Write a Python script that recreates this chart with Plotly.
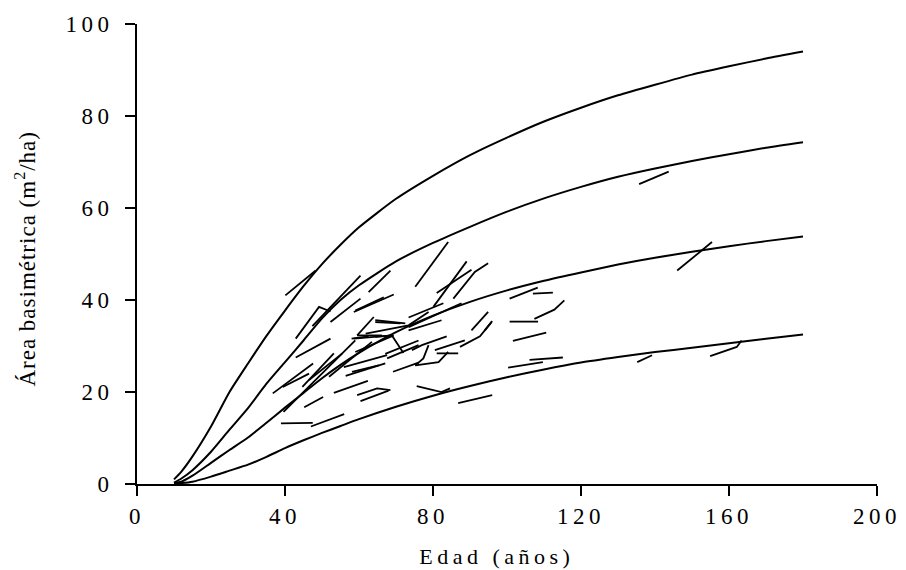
import plotly.graph_objects as go

# ---------------- data ----------------
curve_age = [10, 12, 15, 20, 25, 30, 35, 40, 45, 50, 55, 60, 70, 80, 90, 100,
             110, 120, 130, 140, 150, 160, 170, 180]
curve_1 = [1.0, 2.7, 6.0, 12.5, 20.0, 26.2, 32.2, 37.7, 43.0, 47.8, 52.0, 55.8,
           62.0, 67.0, 71.5, 75.3, 78.8, 81.8, 84.5, 86.8, 89.0, 90.8, 92.5, 94.0]
curve_2 = [0.3, 1.2, 3.0, 7.0, 11.8, 16.5, 21.8, 26.5, 31.2, 36.0, 40.0, 43.2,
           48.4, 52.4, 55.9, 59.2, 62.1, 64.6, 66.8, 68.6, 70.2, 71.7, 73.1, 74.3]
curve_3 = [0.2, 0.5, 1.8, 4.6, 7.4, 10.1, 13.3, 16.6, 19.8, 23.0, 25.9, 28.5,
           33.0, 36.6, 39.6, 42.1, 44.2, 46.0, 47.7, 49.2, 50.5, 51.7, 52.8, 53.8]
curve_4 = [0.1, 0.2, 0.5, 1.6, 2.9, 4.2, 5.9, 7.8, 9.5, 11.1, 12.6, 14.1,
           16.8, 19.2, 21.3, 23.2, 24.9, 26.4, 27.6, 28.7, 29.6, 30.6, 31.6, 32.5]

# remeasured plots: ages and basal areas of each plot
plot_age = [
    [40.1, 48.3], [42.9, 49.2, 52.3], [47.4, 60.4], [52.3, 60.4], [58.6, 69.4],
    [59.0, 66.7], [62.6, 68.5], [42.9, 52.3], [36.7, 47.6], [39.6, 59.0],
    [44.7, 53.2], [45.2, 50.3], [38.9, 47.5], [47.0, 56.0], [53.2, 62.4],
    [56.4, 67.1], [59.5, 64.9, 68.5], [60.4, 68.0], [58.0, 62.6], [59.5, 64.0],
    [64.4, 71.2], [61.8, 73.4, 78.8], [58.6, 68.9], [64.4, 68.9, 72.0], [59.0, 69.4],
    [51.9, 63.5], [55.9, 67.6], [58.1, 65.3], [69.2, 76.1], [67.6, 76.1],
    [75.2, 84.1], [81.0, 90.4], [80.1, 89.1], [85.5, 91.3, 94.9], [73.4, 82.8],
    [73.4, 87.7], [100.7, 108.3], [107.0, 112.4], [107.4, 112.8, 115.5], [100.7, 108.4],
    [90.4, 94.9], [94.0, 96.0], [73.4, 82.3], [74.3, 77.0, 83.7], [80.5, 88.6],
    [87.3, 92.7, 95.8], [101.6, 110.6], [75.2, 77.4, 78.8], [75.2, 81.5, 84.1], [81.0, 86.8],
    [100.3, 109.7], [106.1, 115.1], [75.6, 82.3, 84.6], [86.8, 96.0], [135.7, 143.7],
    [146.0, 155.4], [135.2, 139.2], [154.9, 162.1, 163.4], [64.4, 72.5], [67.1, 76.1],
    [59.5, 66.2], [39.4, 46.5], [46.5, 55.5],
]
plot_ba = [
    [41.0, 46.4], [31.6, 38.5, 37.5], [34.3, 45.3], [35.2, 40.3], [37.4, 41.2],
    [37.7, 40.6], [41.7, 46.4], [27.5, 31.6], [19.7, 26.2], [15.7, 31.2],
    [21.1, 28.4], [16.7, 18.9], [13.2, 13.3], [12.5, 15.2], [19.8, 22.4],
    [23.5, 26.2], [19.3, 20.8, 20.4], [18.0, 20.3], [31.6, 32.1], [32.3, 36.3],
    [35.2, 34.9], [32.7, 34.5, 37.4], [31.6, 32.3], [32.0, 32.3, 28.5], [28.7, 32.3],
    [23.3, 30.9], [25.4, 28.0], [24.4, 25.8], [24.4, 26.4], [27.3, 30.2],
    [42.9, 52.6], [41.5, 46.6], [38.5, 48.4], [40.3, 46.1, 48.0], [36.2, 39.3],
    [34.1, 39.3], [40.3, 42.7], [41.4, 41.6], [35.9, 37.9, 39.9], [35.3, 35.3],
    [33.4, 37.4], [33.4, 35.4], [33.4, 35.6], [29.1, 30.2, 32.1], [29.1, 31.2],
    [29.8, 32.1, 35.2], [31.1, 32.9], [25.8, 27.3, 30.2], [25.8, 26.5, 28.7], [28.4, 28.4],
    [25.3, 26.5], [27.0, 27.5], [21.3, 20.0, 20.8], [17.6, 19.3], [65.2, 67.9],
    [46.4, 52.6], [26.5, 28.0], [27.8, 29.8, 31.2], [35.6, 34.9], [28.3, 31.2],
    [32.3, 32.3], [21.1, 24.0], [22.6, 28.4],
]

x_ticks = [0, 40, 80, 120, 160, 200]
y_ticks = [0, 20, 40, 60, 80, 100]
x_title = "Edad (años)"
y_title = "Área basimétrica (m<sup>2</sup>/ha)"

# ---------------- figure ----------------
FONT = "Liberation Serif"
fig = go.Figure()

seg_x, seg_y = [], []
for ax_, ay_ in zip(plot_age, plot_ba):
    seg_x += ax_ + [None]
    seg_y += ay_ + [None]
fig.add_trace(go.Scatter(x=seg_x, y=seg_y, mode="lines",
                         line=dict(color="black", width=1.8),
                         hoverinfo="skip", showlegend=False))

for cv in [curve_1, curve_2, curve_3, curve_4]:
    fig.add_trace(go.Scatter(x=curve_age, y=cv, mode="lines",
                             line=dict(color="black", width=2, shape="spline", smoothing=0.6),
                             showlegend=False))

axis_common = dict(showline=True, linecolor="black", linewidth=2,
                   ticks="outside", ticklen=10, tickwidth=2, tickcolor="black",
                   showgrid=False, zeroline=False,
                   tickfont=dict(family=FONT, size=23, color="black"))

fig.update_xaxes(range=[0, 200], tickvals=x_ticks, ticktext=[str(v) for v in x_ticks],
                 ticklabelstandoff=0, **axis_common)
fig.update_yaxes(range=[0, 100], tickvals=y_ticks, ticktext=[str(v) for v in y_ticks],
                 ticklabelstandoff=7, **axis_common)

fig.add_annotation(text=x_title, xref="paper", yref="paper", x=0.4866, y=-0.158,
                   showarrow=False, font=dict(family=FONT, size=22, color="black"),
                   xanchor="center", yanchor="middle")
fig.add_annotation(text=y_title, xref="paper", yref="paper", x=-0.150, y=0.49,
                   textangle=-90, showarrow=False,
                   font=dict(family=FONT, size=23, color="black"),
                   xanchor="center", yanchor="middle")

fig.update_layout(width=906, height=570, paper_bgcolor="white", plot_bgcolor="white",
                  margin=dict(l=137, r=25, t=23, b=86), showlegend=False)

post = """
document.body.style.margin = '0';
document.body.style.padding = '0';
var gd = document.getElementById('{plot_id}');
function spacing(){
  gd.querySelectorAll('.xtick text, .ytick text').forEach(function(t){ t.style.letterSpacing='4.5px'; });
  var ann = gd.querySelectorAll('.annotation-text');
  if (ann.length > 0) { ann[0].style.letterSpacing = '4.5px'; }
  if (ann.length > 1) { ann[1].style.letterSpacing = '1px'; }
}
spacing();
gd.on('plotly_afterplot', spacing);
"""
fig.write_html("out.html", post_script=post, config={"displayModeBar": False})
